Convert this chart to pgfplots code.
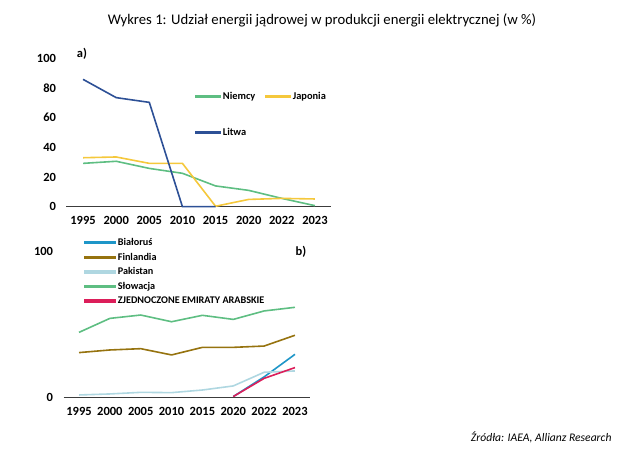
\documentclass[border=0pt]{standalone}
\usepackage{pgfplots}
\pgfplotsset{compat=1.18}
\usepackage{fontspec}
\setmainfont{Carlito}
\definecolor{niemcy}{RGB}{94,190,130}
\definecolor{japonia}{RGB}{245,200,60}
\definecolor{litwa}{RGB}{45,80,150}
\definecolor{bialorus}{RGB}{30,150,200}
\definecolor{finlandia}{RGB}{150,115,15}
\definecolor{pakistan}{RGB}{175,215,225}
\definecolor{uae}{RGB}{220,30,90}
\definecolor{axgray}{RGB}{60,60,60}
\pgfplotsset{
  common/.style={
    scale only axis, clip=false,
    xmin=-0.5, xmax=7.5, ymin=0, ymax=100,
    xtick={0,...,7},
    xticklabels={1995,2000,2005,2010,2015,2020,2022,2023},
    major tick length=0pt,
    axis x line*=bottom, axis y line*=left,
    x axis line style={draw=axgray, line width=1.2pt, -},
    y axis line style={draw=none},
    /pgf/number format/assume math mode=true,
    tick label style={font=\fontsize{12.5}{14}\selectfont\bfseries, text=black},
    xticklabel style={yshift=-6pt},
    yticklabel style={xshift=-7pt},
    legend cell align=left,
  },
}
\begin{document}
\begin{tikzpicture}[x=1pt,y=1pt]
\useasboundingbox (0,0) rectangle (640,449);
\node[font=\fontsize{14.7}{16}\selectfont] at (322,429) {Wykres 1: Udział energii jądrowej w produkcji energii elektrycznej (w \%)};
\node[font=\fontsize{11.6}{13}\selectfont\itshape, anchor=east] at (615,12) {Źródła: IAEA, Allianz Research};
\node[font=\fontsize{12.5}{14}\selectfont\bfseries] at (82,395) {a)};
\node[font=\fontsize{12.5}{14}\selectfont\bfseries] at (301,197) {b)};
\begin{axis}[common,
  at={(66.5pt,242.3pt)}, anchor=south west,
  width=265pt, height=148.4pt,
  ytick={0,20,40,60,80,100},
  legend columns=2,
  legend image code/.code={\fill[#1] (0pt,-0.85pt) rectangle (24pt,0.85pt);},
  legend style={at={(0.474,0.80)}, anchor=north west, draw=none, fill=none,
    font=\fontsize{10.4}{12}\selectfont\bfseries, row sep=23pt,
    /tikz/every even column/.append style={column sep=8pt}},
]
\addplot[color=niemcy, line width=1.6pt, mark=none] coordinates {(0,29.2) (1,30.6) (2,25.8) (3,22.5) (4,14.0) (5,11.0) (6,5.6) (7,0.7)};
\addlegendentry{Niemcy}
\addplot[color=japonia, line width=1.6pt, mark=none] coordinates {(0,33.0) (1,33.5) (2,29.2) (3,29.2) (4,0.3) (5,4.9) (6,5.6) (7,5.2)};
\addlegendentry{Japonia}
\addplot[color=litwa, line width=1.6pt, mark=none] coordinates {(0,85.8) (1,73.5) (2,70.3) (3,0) (4,0)};
\addlegendentry{Litwa}
\end{axis}
\begin{axis}[common,
  at={(63.6pt,51.7pt)}, anchor=south west,
  width=246.8pt, height=145.6pt,
  ytick={0,100},
  legend style={at={(0.0706,1.12)}, anchor=north west, draw=none, fill=none,
    font=\fontsize{10.2}{11}\selectfont\bfseries, row sep=2pt},
  legend image code/.code={\fill[#1] (0pt,-0.85pt) rectangle (30pt,0.85pt);},
]
\addplot[color=bialorus, line width=1.6pt, mark=none] coordinates {(5,0.5) (6,14) (7,29.5)};
\addlegendentry{Białoruś}
\addplot[color=finlandia, line width=1.6pt, mark=none] coordinates {(0,30.7) (1,32.5) (2,33.4) (3,29.1) (4,34.3) (5,34.3) (6,35.2) (7,42.6)};
\addlegendentry{Finlandia}
\addplot[color=pakistan, line width=1.6pt, mark=none] coordinates {(0,1.6) (1,2.3) (2,3.4) (3,3.2) (4,5.0) (5,7.8) (6,17.2) (7,18.1)};
\addlegendentry{Pakistan}
\addplot[color=niemcy, line width=1.6pt, mark=none] coordinates {(0,44.6) (1,54.2) (2,56.5) (3,51.9) (4,56.3) (5,53.5) (6,59.3) (7,61.8)};
\addlegendentry{Słowacja}
\addplot[color=uae, line width=1.6pt, mark=none] coordinates {(5,0.5) (6,13) (7,20.4)};
\addlegendentry{ZJEDNOCZONE EMIRATY ARABSKIE}
\end{axis}
\end{tikzpicture}
\end{document}
